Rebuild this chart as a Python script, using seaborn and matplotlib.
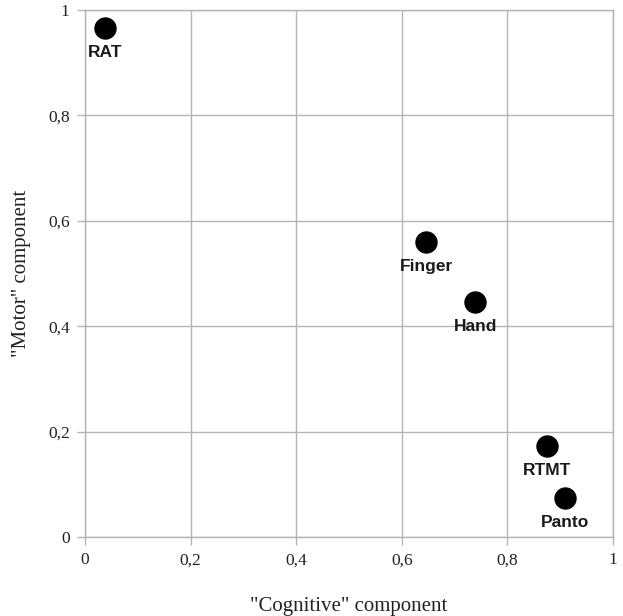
import matplotlib
matplotlib.use("Agg")
import matplotlib.pyplot as plt
import seaborn as sns
import pandas as pd

names = ["RAT", "Finger", "Hand", "RTMT", "Panto"]
cognitive = [0.038, 0.646, 0.739, 0.875, 0.909]
motor = [0.966, 0.560, 0.446, 0.173, 0.074]
ticks = [0, 0.2, 0.4, 0.6, 0.8, 1]
tick_labels = ["0", "0,2", "0,4", "0,6", "0,8", "1"]

df = pd.DataFrame({"name": names, "x": cognitive, "y": motor})

sns.set_style("white")
fig = plt.figure(figsize=(6.23, 6.16), dpi=100)
ax = fig.add_axes([0.1364, 0.1282, 0.9840 - 0.1364, 0.9838 - 0.1282])

sns.scatterplot(data=df, x="x", y="y", ax=ax, s=260, color="black",
                edgecolor="black", linewidth=0, zorder=3, legend=False)

for n, x, y in zip(names, cognitive, motor):
    ax.annotate(n, (x, y), xytext=(0, -17.5), textcoords="offset points",
                ha="center", va="center", fontsize=12.5, fontweight="bold",
                family="Liberation Sans", color="#1a1a1a", zorder=4)

ax.set_xlim(0, 1)
ax.set_ylim(0, 1)
ax.set_xticks(ticks)
ax.set_yticks(ticks)
ax.set_xticklabels(tick_labels, family="Liberation Serif", fontsize=12.5)
ax.set_yticklabels(tick_labels, family="Liberation Serif", fontsize=12.5)
ax.grid(True, color="#b3b3b3", linewidth=1)
ax.set_axisbelow(True)
for s in ax.spines.values():
    s.set_color("#b3b3b3")
    s.set_linewidth(1)
ax.tick_params(axis="both", length=6, color="#b3b3b3", width=1, pad=5,
               bottom=True, left=True, labelcolor="#222222")

ax.set_xlabel('"Cognitive" component', family="Liberation Serif",
              fontsize=15, labelpad=21, color="#222222")
ax.set_ylabel('"Motor" component', family="Liberation Serif",
              fontsize=15, labelpad=12, color="#222222")

fig.savefig("out.png", dpi=100)
